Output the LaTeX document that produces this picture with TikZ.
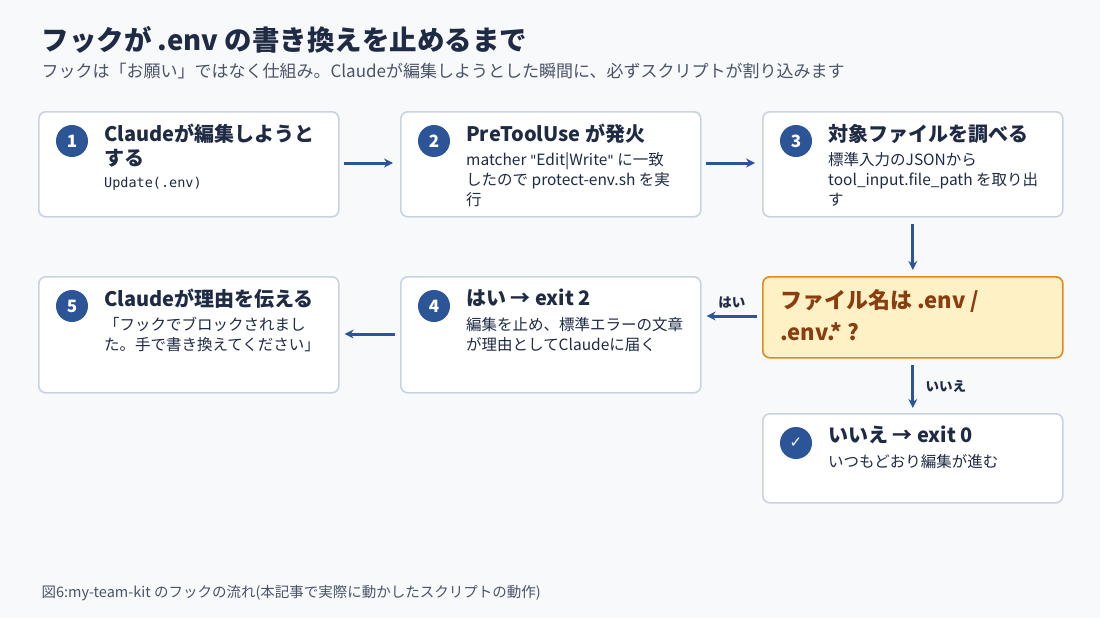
\documentclass[tikz,border=0pt]{standalone}
\usepackage{fontspec}
\defaultfontfeatures{}
\setmainfont{Noto Sans CJK JP}
\setmonofont{DejaVu Sans Mono}
\newfontfamily\symfont{DejaVu Sans}
\usetikzlibrary{positioning,arrows.meta}
\definecolor{bgc}{HTML}{F8F9FB}
\definecolor{ink}{HTML}{1F2A44}
\definecolor{grey}{HTML}{4A5468}
\definecolor{edge}{HTML}{C9D3E0}
\definecolor{navy}{HTML}{2C5597}
\definecolor{warn}{HTML}{E08A1E}
\definecolor{warnbg}{HTML}{FDF1C5}
\definecolor{warnink}{HTML}{8A3D0F}
\newcommand\dq{{\symfont\fontsize{14}{20}\selectfont"}}
\begin{document}
\begin{tikzpicture}[x=1pt,y=-1pt,>={Stealth[length=9pt,width=9pt]},
  step box/.style={draw=edge,line width=1.6pt,fill=white,rounded corners=7pt,
    minimum width=300pt,anchor=north west,inner sep=0pt},
  check box/.style={step box,draw=warn,fill=warnbg},
  badge/.style={circle,fill=navy,text=white,minimum size=32pt,inner sep=0pt,
    font=\fontsize{17}{17}\selectfont\bfseries},
  head/.style={anchor=north west,text=ink,align=left,inner sep=0pt,
    font=\fontsize{20}{24}\selectfont\bfseries},
  body/.style={anchor=north west,text=ink,align=left,inner sep=0pt,
    font=\fontsize{15.5}{20}\selectfont},
  flow/.style={->,draw=navy,line width=3pt},
  tag/.style={text=ink,font=\fontsize{13.5}{13.5}\selectfont\bfseries}]

  \fill[bgc] (0,0) rectangle (1100,618);
  \useasboundingbox (0,0) rectangle (1100,618);

  \node[anchor=west,text=ink,font=\fontsize{27.5}{27.5}\selectfont\bfseries] (title) at (38,40)
    {フックが .env の書き換えを止めるまで};
  \node[anchor=west,text=grey,font=\fontsize{17}{17}\selectfont] (sub) at (38,71)
    {フックは「お願い」ではなく仕組み。Claudeが編集しようとした瞬間に、必ずスクリプトが割り込みます};

  % top row
  \node[step box,minimum height=105pt] (s1) at (38,111) {};
  \node[badge] (b1) at (72,141) {1};
  \node[head] (h1) at (104,124) {Claudeが編集しようと\\する};
  \node[body] (t1) at (104,177) {\ttfamily\fontsize{13.5}{20}\selectfont Update(.env)};

  \node[step box,minimum height=105pt] (s2) at (400,111) {};
  \node[badge] (b2) at (434,141) {2};
  \node[head] (h2) at (466,124) {PreToolUse が発火};
  \node[body] (t2) at (466,152) {matcher \dq Edit|Write\dq\ に一致\\したので protect-env.sh を実\\行};

  \node[step box,minimum height=105pt] (s3) at (762,111) {};
  \node[badge] (b3) at (796,141) {3};
  \node[head] (h3) at (828,124) {対象ファイルを調べる};
  \node[body] (t3) at (828,152) {標準入力のJSONから\\tool\_input.file\_path を取り出\\す};

  % second row
  \node[check box,minimum height=81pt] (q) at (762,276) {};
  \node[head,text=warnink,font=\fontsize{22}{32}\selectfont\bfseries] (hq) at (780,289)
    {ファイル名は .env /\\.env.* ?};

  \node[step box,minimum height=116pt] (s4) at (400,276) {};
  \node[badge] (b4) at (434,306) {4};
  \node[head] (h4) at (466,289) {はい → exit 2};
  \node[body] (t4) at (466,317) {編集を止め、標準エラーの文章\\が理由としてClaudeに届く};

  \node[step box,minimum height=116pt] (s5) at (38,276) {};
  \node[badge] (b5) at (72,306) {5};
  \node[head] (h5) at (104,289) {Claudeが理由を伝える};
  \node[body] (t5) at (104,317) {「フックでブロックされまし\\た。手で書き換えてください」};

  \node[step box,minimum height=89pt] (s6) at (762,413) {};
  \node[badge,font=\symfont\fontsize{15}{15}\selectfont] (b6) at (796,443) {✓};
  \node[head] (h6) at (828,426) {いいえ → exit 0};
  \node[body] (t6) at (828,454) {いつもどおり編集が進む};

  % connectors
  \draw[flow] ([xshift=4pt]s1.east|-0,163) -- ([xshift=-7pt]s2.west|-0,163);
  \draw[flow] ([xshift=4pt]s2.east|-0,163) -- ([xshift=-7pt]s3.west|-0,163);
  \draw[flow] ([yshift=-6pt]s3.south) -- ([yshift=6pt]q.north);
  \draw[flow] ([xshift=-5pt]q.west|-0,316) -- node[tag,above=3pt] {はい} ([xshift=5pt]s4.east|-0,316);
  \draw[flow] ([xshift=-5pt]s4.west|-0,334) -- ([xshift=5pt]s5.east|-0,334);
  \draw[flow] ([yshift=-6pt]q.south) -- node[tag,right=8pt] {いいえ} ([yshift=5pt]s6.north);

  \node[anchor=west,text=grey,font=\fontsize{14.5}{14.5}\selectfont] (cap) at (38,593)
    {図6:my-team-kit のフックの流れ(本記事で実際に動かしたスクリプトの動作)};
\end{tikzpicture}
\end{document}
